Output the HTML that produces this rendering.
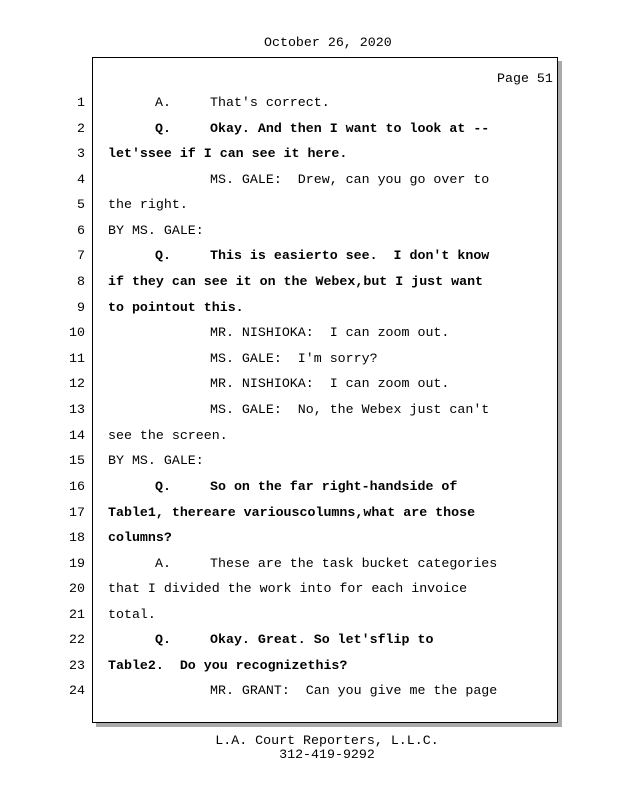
<!DOCTYPE html>
<html><head><meta charset="utf-8"><style>
html,body{margin:0;padding:0;background:#fff;}
body{width:618px;height:800px;position:relative;overflow:hidden;font-family:"Liberation Mono",monospace;font-size:13.3px;color:#000;}
.t{position:absolute;line-height:16px;white-space:pre;}
.n{position:absolute;width:30px;left:55px;text-align:right;line-height:16px;}
.b{font-weight:bold;}
#shadow{position:absolute;left:96px;top:61px;width:466px;height:666px;background:#aaa;}
#box{position:absolute;left:92px;top:57px;width:464px;height:664px;border:1px solid #000;background:#fff;}
</style></head><body>
<div class="t" style="left:264px;top:35px">October 26, 2020</div>
<div id="shadow"></div><div id="box"></div>
<div class="t" style="left:497px;top:71px">Page 51</div>

<div class="n" style="top:95px">1</div><div class="t" style="left:155px;top:95px">A.</div><div class="t" style="left:210px;top:95px">That's correct.</div>
<div class="n" style="top:121px">2</div><div class="t b" style="left:155px;top:121px">Q.</div><div class="t b" style="left:210px;top:121px">Okay. And then I want to look at --</div>
<div class="n" style="top:146px">3</div><div class="t b" style="left:108px;top:146px">let'ssee if I can see it here.</div>
<div class="n" style="top:172px">4</div><div class="t" style="left:210px;top:172px">MS. GALE:  Drew, can you go over to</div>
<div class="n" style="top:197px">5</div><div class="t" style="left:108px;top:197px">the right.</div>
<div class="n" style="top:223px">6</div><div class="t" style="left:108px;top:223px">BY MS. GALE:</div>
<div class="n" style="top:248px">7</div><div class="t b" style="left:155px;top:248px">Q.</div><div class="t b" style="left:210px;top:248px">This is easierto see.  I don't know</div>
<div class="n" style="top:274px">8</div><div class="t b" style="left:108px;top:274px">if they can see it on the Webex,but I just want</div>
<div class="n" style="top:300px">9</div><div class="t b" style="left:108px;top:300px">to pointout this.</div>
<div class="n" style="top:325px">10</div><div class="t" style="left:210px;top:325px">MR. NISHIOKA:  I can zoom out.</div>
<div class="n" style="top:351px">11</div><div class="t" style="left:210px;top:351px">MS. GALE:  I'm sorry?</div>
<div class="n" style="top:376px">12</div><div class="t" style="left:210px;top:376px">MR. NISHIOKA:  I can zoom out.</div>
<div class="n" style="top:402px">13</div><div class="t" style="left:210px;top:402px">MS. GALE:  No, the Webex just can't</div>
<div class="n" style="top:428px">14</div><div class="t" style="left:108px;top:428px">see the screen.</div>
<div class="n" style="top:453px">15</div><div class="t" style="left:108px;top:453px">BY MS. GALE:</div>
<div class="n" style="top:479px">16</div><div class="t b" style="left:155px;top:479px">Q.</div><div class="t b" style="left:210px;top:479px">So on the far right-handside of</div>
<div class="n" style="top:505px">17</div><div class="t b" style="left:108px;top:505px">Table1, thereare variouscolumns,what are those</div>
<div class="n" style="top:530px">18</div><div class="t b" style="left:108px;top:530px">columns?</div>
<div class="n" style="top:556px">19</div><div class="t" style="left:155px;top:556px">A.</div><div class="t" style="left:210px;top:556px">These are the task bucket categories</div>
<div class="n" style="top:581px">20</div><div class="t" style="left:108px;top:581px">that I divided the work into for each invoice</div>
<div class="n" style="top:607px">21</div><div class="t" style="left:108px;top:607px">total.</div>
<div class="n" style="top:632px">22</div><div class="t b" style="left:155px;top:632px">Q.</div><div class="t b" style="left:210px;top:632px">Okay. Great. So let'sflip to</div>
<div class="n" style="top:658px">23</div><div class="t b" style="left:108px;top:658px">Table2.  Do you recognizethis?</div>
<div class="n" style="top:683px">24</div><div class="t" style="left:210px;top:683px">MR. GRANT:  Can you give me the page</div>

<div class="t" style="left:0;width:654px;text-align:center;top:733px">L.A. Court Reporters, L.L.C.</div>
<div class="t" style="left:0;width:654px;text-align:center;top:747px">312-419-9292</div>
</body></html>
